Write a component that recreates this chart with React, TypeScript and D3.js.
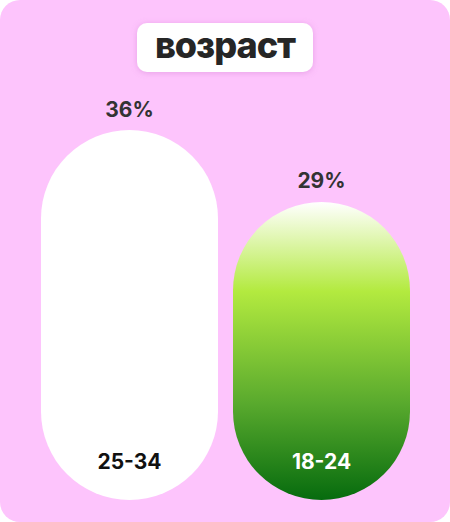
import React from "react";
import * as d3 from "d3";

const W = 450;
const H = 522;

// Age groups and their shares, in percent
const categories = ["25-34", "18-24"];
const shares = [36, 29];
const valueLabels = ["36%", "29%"];
const title = "возраст";

export default function App() {
  const x = d3
    .scaleBand<string>()
    .domain(categories)
    .range([41, 410])
    .paddingInner(15 / 192)
    .paddingOuter(0);

  const y = d3.scaleLinear().domain([0, 36]).range([500, 130]);

  const bw = x.bandwidth();

  return (
    <div style={{ position: "fixed", left: 0, top: 0, width: W, height: H, background: "#fff" }}>
      <svg width={W} height={H} style={{ display: "block" }}>
        <defs>
          <linearGradient id="greenFill" x1="0" y1="0" x2="0" y2="1">
            <stop offset="0" stopColor="#ffffff" />
            <stop offset="0.3" stopColor="#b3ea3f" />
            <stop offset="0.68" stopColor="#58a92d" />
            <stop offset="1" stopColor="#066b0e" />
          </linearGradient>
          <filter id="titleShadow" x="-20%" y="-40%" width="140%" height="180%">
            <feDropShadow dx="0" dy="1" stdDeviation="3" floodColor="#c060c0" floodOpacity="0.35" />
          </filter>
        </defs>

        <rect x={0} y={0} width={W} height={H} rx={20} fill="#fdc4fc" />

        <rect
          x={137}
          y={23}
          width={176}
          height={49}
          rx={10}
          fill="#ffffff"
          filter="url(#titleShadow)"
        />
        <text
          x={225}
          y={58}
          textAnchor="middle"
          fontFamily="Inter, 'Open Sans', sans-serif"
          fontWeight={800}
          fontSize={36}
          letterSpacing={-1}
          fill="#262626"
        >
          {title}
        </text>

        {categories.map((c, i) => {
          const x0 = x(c)!;
          const top = y(shares[i]);
          const h = y(0) - top;
          const cx = x0 + bw / 2;
          return (
            <g key={c}>
              <rect
                x={x0}
                y={top}
                width={bw}
                height={h}
                rx={bw / 2}
                ry={bw / 2}
                fill={i === 0 ? "#ffffff" : "url(#greenFill)"}
              />
              <text
                x={cx}
                y={top - 13.5}
                textAnchor="middle"
                fontFamily="Inter, sans-serif"
                fontWeight={700}
                fontSize={21}
                fill="#333333"
              >
                {valueLabels[i]}
              </text>
              <text
                x={cx}
                y={468.5}
                textAnchor="middle"
                fontFamily="Inter, sans-serif"
                fontWeight={700}
                fontSize={21}
                fill={i === 0 ? "#111111" : "#ffffff"}
              >
                {c}
              </text>
            </g>
          );
        })}
      </svg>
    </div>
  );
}
